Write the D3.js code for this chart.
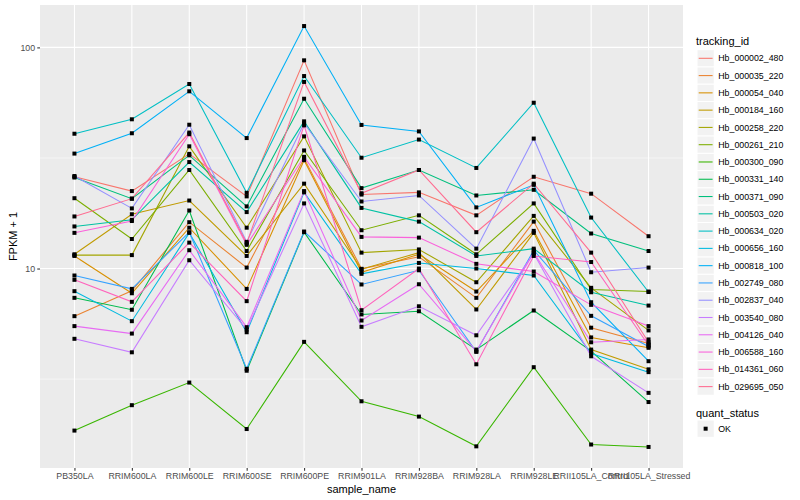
<!DOCTYPE html>
<html>
<head>
<meta charset="utf-8">
<script src="https://cdn.jsdelivr.net/npm/d3@7"></script>
<style>
  html, body { margin: 0; padding: 0; background: #ffffff; }
  svg { display: block; font-family: "Liberation Sans", Arial, Helvetica, sans-serif; }
</style>
</head>
<body>
<svg id="chart" width="800" height="500"></svg>
<script>
// ---- data (FPKM + 1) ----
const categories = ["PB350LA", "RRIM600LA", "RRIM600LE", "RRIM600SE", "RRIM600PE", "RRIM901LA",
  "RRIM928BA", "RRIM928LA", "RRIM928LE", "RRII105LA_Control", "RRII105LA_Stressed"];

const trackingIds = ["Hb_000002_480", "Hb_000035_220", "Hb_000054_040", "Hb_000184_160", "Hb_000258_220",
  "Hb_000261_210", "Hb_000300_090", "Hb_000331_140", "Hb_000371_090", "Hb_000503_020", "Hb_000634_020",
  "Hb_000656_160", "Hb_000818_100", "Hb_002749_080", "Hb_002837_040", "Hb_003540_080", "Hb_004126_040",
  "Hb_006588_160", "Hb_014361_060", "Hb_029695_050"];

const trackingColors = ["#F8766D", "#EA8331", "#D89000", "#C09B00", "#A3A500", "#7CAE00", "#39B600",
  "#00BB4E", "#00BF7D", "#00C1A3", "#00BFC4", "#00BAE0", "#00B0F6", "#35A2FF", "#9590FF", "#C77CFF",
  "#E76BF3", "#FA62DB", "#FF62BC", "#FF6C91"];

const hb_000002_480 = [26.0, 22.4, 33.0, 21.2, 87.4, 21.6, 22.1, 17.4, 26.0, 21.8, 14.0];
const hb_000035_220 = [6.09, 7.93, 16.2, 10.1, 31.5, 9.97, 11.3, 7.37, 16.3, 5.40, 4.58];
const hb_000054_040 = [11.4, 7.73, 15.3, 8.09, 30.9, 9.62, 11.6, 7.87, 14.8, 4.88, 4.38];
const hb_000184_160 = [11.6, 17.6, 20.3, 11.4, 24.2, 9.93, 11.8, 6.53, 14.5, 4.30, 3.50];
const hb_000258_220 = [11.5, 11.5, 35.7, 15.3, 39.6, 11.8, 12.2, 8.67, 17.3, 8.18, 5.25];
const hb_000261_210 = [20.8, 13.6, 27.9, 12.0, 34.2, 14.9, 17.4, 11.6, 19.7, 8.04, 7.87];
const hb_000300_090 = [1.85, 2.41, 3.05, 1.88, 4.66, 2.51, 2.14, 1.57, 3.58, 1.60, 1.56];
const hb_000331_140 = [7.37, 6.51, 18.3, 3.45, 14.6, 6.20, 6.41, 4.30, 6.46, 4.23, 2.49];
const hb_000371_090 = [25.8, 20.7, 32.5, 19.1, 58.6, 23.1, 27.9, 21.4, 22.7, 14.4, 12.0];
const hb_000503_020 = [15.5, 16.6, 30.3, 18.0, 46.3, 18.8, 16.3, 11.4, 12.3, 7.81, 6.80];
const hb_000634_020 = [40.7, 47.3, 68.3, 22.0, 74.2, 31.7, 38.3, 28.5, 56.2, 17.0, 7.83];
const hb_000656_160 = [7.90, 5.78, 14.5, 5.15, 22.1, 9.46, 10.6, 10.0, 9.30, 4.13, 3.40];
const hb_000818_100 = [33.1, 40.9, 63.3, 38.9, 124.9, 44.6, 41.7, 18.9, 23.9, 7.04, 3.81];
const hb_002749_080 = [9.30, 8.09, 14.6, 3.52, 14.7, 8.47, 9.82, 4.20, 12.1, 6.11, 4.44];
const hb_002837_040 = [26.2, 18.7, 44.7, 13.2, 45.4, 20.1, 21.4, 12.3, 38.7, 9.62, 10.1];
const hb_003540_080 = [4.81, 4.18, 10.9, 5.30, 19.7, 5.45, 6.75, 4.99, 11.7, 4.01, 2.74];
const hb_004126_040 = [5.49, 5.08, 12.1, 5.43, 22.4, 5.82, 8.49, 4.22, 11.8, 4.64, 4.78];
const hb_006588_160 = [14.5, 16.4, 40.5, 12.8, 32.0, 13.9, 13.8, 10.5, 9.69, 6.85, 5.49];
const hb_014361_060 = [8.89, 7.07, 13.1, 7.12, 44.4, 6.48, 10.0, 3.69, 11.4, 10.7, 4.50];
const hb_029695_050 = [17.2, 20.7, 41.2, 13.0, 69.8, 21.9, 27.9, 14.6, 24.2, 11.8, 4.64];

const seriesValues = [hb_000002_480, hb_000035_220, hb_000054_040, hb_000184_160, hb_000258_220,
  hb_000261_210, hb_000300_090, hb_000331_140, hb_000371_090, hb_000503_020, hb_000634_020,
  hb_000656_160, hb_000818_100, hb_002749_080, hb_002837_040, hb_003540_080, hb_004126_040,
  hb_006588_160, hb_014361_060, hb_029695_050];

const yMajorTicks = [10, 100];
const yTickLabels = ["10", "100"];
const yMinorTicks = [Math.sqrt(10), Math.sqrt(1000)];
const quantLevels = ["OK"];

// ---- layout ----
const panel = { left: 40, right: 683, top: 5, bottom: 468 };
const svg = d3.select("#chart");
const textCol = "#4D4D4D";

const series = trackingIds.map((id, i) => ({
  id, color: trackingColors[i],
  points: categories.map((c, j) => ({ cat: c, v: seriesValues[i][j] }))
}));

const allVals = seriesValues.flat();
const lmin = Math.log10(d3.min(allVals)), lmax = Math.log10(d3.max(allVals));
const pad = (lmax - lmin) * 0.05;

const x = d3.scalePoint().domain(categories).range([panel.left, panel.right]).padding(0.6);
const y = d3.scaleLog().domain([Math.pow(10, lmin - pad), Math.pow(10, lmax + pad)])
  .range([panel.bottom, panel.top]);

// panel background
svg.append("rect")
  .attr("x", panel.left).attr("y", panel.top)
  .attr("width", panel.right - panel.left).attr("height", panel.bottom - panel.top)
  .attr("fill", "#EBEBEB");

const grid = svg.append("g");
grid.selectAll("line.ymin").data(yMinorTicks).join("line")
  .attr("x1", panel.left).attr("x2", panel.right)
  .attr("y1", d => y(d)).attr("y2", d => y(d))
  .attr("stroke", "#FFFFFF").attr("stroke-width", 0.53);
grid.selectAll("line.ymaj").data(yMajorTicks).join("line")
  .attr("x1", panel.left).attr("x2", panel.right)
  .attr("y1", d => y(d)).attr("y2", d => y(d))
  .attr("stroke", "#FFFFFF").attr("stroke-width", 1.07);
grid.selectAll("line.xmaj").data(categories).join("line")
  .attr("x1", d => x(d)).attr("x2", d => x(d))
  .attr("y1", panel.top).attr("y2", panel.bottom)
  .attr("stroke", "#FFFFFF").attr("stroke-width", 1.07);

// lines
const line = d3.line().x(d => x(d.cat)).y(d => y(d.v));
svg.append("g").selectAll("path").data(series).join("path")
  .attr("d", d => line(d.points))
  .attr("fill", "none")
  .attr("stroke", d => d.color)
  .attr("stroke-width", 1.07);

// points
const pts = series.flatMap(s => s.points);
svg.append("g").selectAll("rect").data(pts).join("rect")
  .attr("x", d => x(d.cat) - 2).attr("y", d => y(d.v) - 2)
  .attr("width", 4).attr("height", 4)
  .attr("fill", "#000000");

// axes
const yAxis = d3.axisLeft(y).tickValues(yMajorTicks)
  .tickFormat((d, i) => yTickLabels[i]).tickSize(2.75).tickPadding(2.2);
const gy = svg.append("g").attr("transform", `translate(${panel.left},0)`).call(yAxis);
gy.select(".domain").remove();
gy.selectAll(".tick line").attr("stroke", "#333333").attr("stroke-width", 1.07);
gy.selectAll(".tick text").attr("fill", textCol).attr("font-size", 8.8)
  .attr("font-family", "Liberation Sans, Arial, sans-serif");

const xAxis = d3.axisBottom(x).tickSize(2.75).tickPadding(2.2);
const gx = svg.append("g").attr("transform", `translate(0,${panel.bottom})`).call(xAxis);
gx.select(".domain").remove();
gx.selectAll(".tick line").attr("stroke", "#333333").attr("stroke-width", 1.07);
gx.selectAll(".tick text").attr("fill", textCol).attr("font-size", 8.8)
  .attr("font-family", "Liberation Sans, Arial, sans-serif");

// axis titles
svg.append("text")
  .attr("x", (panel.left + panel.right) / 2).attr("y", 492.5)
  .attr("text-anchor", "middle").attr("font-size", 11).attr("fill", "#000")
  .text("sample_name");
svg.append("text")
  .attr("transform", `translate(16.5,${(panel.top + panel.bottom) / 2}) rotate(-90)`)
  .attr("text-anchor", "middle").attr("font-size", 11).attr("fill", "#000")
  .text("FPKM + 1");

// legend: tracking_id
const leg = svg.append("g");
const keyX = 697, keyW = 17.28, row0 = 58.3;
leg.append("text").attr("x", 696).attr("y", 44.5).attr("font-size", 11).attr("fill", "#000")
  .text("tracking_id");
const rows = leg.selectAll("g.row").data(series).join("g")
  .attr("transform", (d, i) => `translate(0,${row0 + i * keyW})`);
rows.append("rect").attr("x", keyX).attr("y", -keyW / 2).attr("width", keyW).attr("height", keyW)
  .attr("fill", "#F2F2F2").attr("stroke", "#FFFFFF").attr("stroke-width", 1);
rows.append("line").attr("x1", keyX + 1.7).attr("x2", keyX + keyW - 1.7)
  .attr("y1", 0).attr("y2", 0).attr("stroke", d => d.color).attr("stroke-width", 1.07);
rows.append("text").attr("x", keyX + keyW + 4).attr("y", 0).attr("dy", "0.35em")
  .attr("font-size", 8.8).attr("fill", "#000").text(d => d.id);

// legend: quant_status
const leg2 = svg.append("g");
leg2.append("text").attr("x", 696).attr("y", 416.5).attr("font-size", 11).attr("fill", "#000")
  .text("quant_status");
const qrows = leg2.selectAll("g.q").data(quantLevels).join("g")
  .attr("transform", (d, i) => `translate(0,${428.7 + i * keyW})`);
qrows.append("rect").attr("x", keyX).attr("y", -keyW / 2).attr("width", keyW).attr("height", keyW)
  .attr("fill", "#F2F2F2").attr("stroke", "#FFFFFF").attr("stroke-width", 1);
qrows.append("rect").attr("x", keyX + keyW / 2 - 2).attr("y", -2).attr("width", 4).attr("height", 4)
  .attr("fill", "#000");
qrows.append("text").attr("x", keyX + keyW + 4).attr("y", 0).attr("dy", "0.35em")
  .attr("font-size", 8.8).attr("fill", "#000").text(d => d);
</script>
</body>
</html>
